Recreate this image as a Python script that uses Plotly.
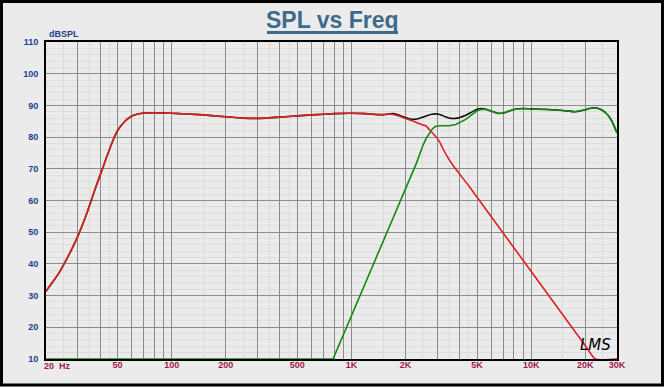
import numpy as np
import plotly.graph_objects as go

# ---------------- data ----------------
red_freq = [20, 22, 24, 26, 28, 30, 32, 34, 36, 38, 40, 42, 44, 46, 48, 50, 52, 55, 58, 61, 65,
            70, 80, 90, 100, 120, 150, 200, 250, 300, 400, 500, 600, 700, 800, 1000, 1200,
            1400, 1500, 1650, 1800, 2000, 2200, 2400, 2600, 2750, 2900, 3000, 3100, 3200,
            3400, 3700, 4000, 4500, 5000, 10000, 20000, 22700, 30000]
red_db = [31.4, 34.6, 37.8, 41.4, 45.0, 48.6, 52.5, 56.5, 60.6, 64.5, 68.0, 71.3, 74.5, 77.4,
          80.0, 82.0, 83.4, 85.0, 86.1, 86.8, 87.3, 87.6, 87.7, 87.6, 87.5, 87.3, 87.0, 86.4,
          86.0, 85.9, 86.3, 86.7, 87.0, 87.2, 87.4, 87.5, 87.4, 87.1, 87.0, 87.3, 86.8, 85.9,
          85.1, 84.2, 83.5, 82.0, 80.6, 79.6, 78.4, 76.8, 74.0, 70.8, 68.3, 64.6, 61.0, 37.6,
          14.2, 10.0, 10.0]

green_freq = [20, 790, 2300, 2400, 2500, 2600, 2700, 2800, 2900, 3000, 3200, 3500, 3800, 4000,
              4300, 4600, 5000, 5300, 5600, 6000, 6500, 7000, 7500, 8000, 9000, 10000, 12000,
              15000, 17500, 19000, 20000, 21000, 22000, 23000, 24000, 25000, 26000, 27000,
              28000, 29000, 30000]
green_db = [10, 10, 71.8, 75.0, 77.4, 79.5, 81.2, 82.4, 83.2, 83.5, 83.6, 83.6, 84.0, 84.6,
            85.5, 86.8, 88.3, 88.8, 88.7, 88.2, 87.5, 87.6, 88.2, 88.7, 89.0, 88.9, 88.8, 88.4,
            88.0, 88.3, 88.6, 89.0, 89.2, 89.2, 88.9, 88.4, 87.6, 86.6, 85.2, 83.4, 81.3]

sum_freq = [20, 22, 24, 26, 28, 30, 32, 34, 36, 38, 40, 42, 44, 46, 48, 50, 52, 55, 58, 61, 65,
            70, 80, 90, 100, 120, 150, 200, 250, 300, 400, 500, 600, 700, 800, 1000, 1200,
            1400, 1500, 1600, 1700, 1800, 1900, 2000, 2100, 2200, 2350, 2500, 2650, 2800,
            3000, 3150, 3300, 3450, 3600, 3800, 4000, 4300, 4600, 5000, 5300, 5600, 6000,
            6500, 7000, 7500, 8000, 9000, 10000, 12000, 15000, 17500, 19000, 20000, 21000,
            22000, 23000, 24000, 25000, 26000, 27000, 28000, 29000, 30000]
sum_db = [31.4, 34.6, 37.8, 41.4, 45.0, 48.6, 52.5, 56.5, 60.6, 64.5, 68.0, 71.3, 74.5, 77.4,
          80.0, 82.0, 83.4, 85.0, 86.1, 86.8, 87.3, 87.6, 87.7, 87.6, 87.5, 87.3, 87.0, 86.4,
          86.0, 85.9, 86.3, 86.7, 87.0, 87.2, 87.4, 87.5, 87.4, 87.1, 87.1, 87.3, 87.4, 87.1,
          86.6, 86.2, 85.8, 85.6, 85.8, 86.3, 86.8, 87.2, 87.3, 87.0, 86.5, 86.1, 85.9, 85.9,
          86.2, 86.8, 87.7, 88.8, 89.0, 88.8, 88.2, 87.5, 87.6, 88.2, 88.7, 89.0, 88.9, 88.8,
          88.4, 88.0, 88.3, 88.6, 89.0, 89.2, 89.2, 88.9, 88.4, 87.6, 86.6, 85.2, 83.4, 81.3]

x_labels = {50: "50", 100: "100", 200: "200", 500: "500", 1000: "1K", 2000: "2K",
            5000: "5K", 10000: "10K", 20000: "20K", 30000: "30K"}
y_ticks = list(range(10, 111, 10))

# ---------------- styling ----------------
RED = "#DD2020"
GREEN = "#138A13"
BLACK = "#101010"
YLAB = "#1B3F8B"
XLAB = "#A0194E"
TITLE = "#3E6A8A"
FONT = "Liberation Sans"

major_vals = [n * 10 ** k for k in range(1, 5) for n in range(1, 10)
              if 20 <= n * 10 ** k <= 30000]
minor_vals = [m * 10 ** k for k in range(1, 5) for m in (1.5, 2.5, 3.5, 4.5)
              if 20 <= m * 10 ** k <= 30000]
tick_text = [x_labels.get(v, "") for v in major_vals]

fig = go.Figure()
fig.add_trace(go.Scatter(x=sum_freq, y=sum_db, mode="lines",
                         line=dict(color=BLACK, width=1.6, shape="spline", smoothing=0.5),
                         showlegend=False))
fig.add_trace(go.Scatter(x=red_freq, y=red_db, mode="lines",
                         line=dict(color=RED, width=1.6, shape="spline", smoothing=0.5),
                         showlegend=False))
fig.add_trace(go.Scatter(x=green_freq, y=green_db, mode="lines",
                         line=dict(color=GREEN, width=1.6), showlegend=False))

W, H = 664, 389
L, R, T, B = 46, 617, 42, 359


def px(xp):
    return (xp - L) / (R - L)


def py(yp):
    return (B - yp) / (B - T)


fig.update_layout(
    width=W, height=H,
    margin=dict(l=L, r=W - R, t=T, b=H - B, pad=0),
    paper_bgcolor="white",
    plot_bgcolor="white",
    font=dict(family=FONT),
    showlegend=False,
)

fig.update_xaxes(
    type="log", range=[np.log10(20), np.log10(30000)],
    tickmode="array", tickvals=major_vals, ticktext=tick_text,
    showgrid=True, gridcolor="#8c8c8c", gridwidth=1,
    minor=dict(tickvals=minor_vals, showgrid=True, gridcolor="#dadada", gridwidth=1),
    showline=True, linecolor="black", linewidth=2, mirror=True,
    ticks="", zeroline=False, layer="below traces",
    tickfont=dict(family=FONT, size=9, color=XLAB, weight="bold"),
    ticklabelstandoff=-4,
)
fig.update_yaxes(
    range=[10, 110], tickmode="array", tickvals=y_ticks,
    showgrid=True, gridcolor="#8c8c8c", gridwidth=1,
    minor=dict(dtick=2, showgrid=True, gridcolor="#dedede", gridwidth=1),
    showline=True, linecolor="black", linewidth=2, mirror=True,
    ticks="", zeroline=False, layer="below traces",
    tickfont=dict(family=FONT, size=9, color=YLAB, weight="bold"),
    ticklabelstandoff=4,
)

# outer panel with black frame
fig.add_shape(type="rect", xref="paper", yref="paper", layer="below",
              x0=px(1.5), x1=px(662.5), y0=py(385), y1=py(1.5),
              fillcolor="#EBEBEB", line=dict(color="black", width=3))
# title underline
fig.add_shape(type="line", xref="paper", yref="paper",
              x0=px(267), x1=px(398), y0=py(32.5), y1=py(32.5),
              line=dict(color=TITLE, width=3))

fig.add_annotation(text="<b>SPL vs Freq</b>", xref="paper", yref="paper",
                   x=px(332), y=py(20), xanchor="center", yanchor="middle",
                   showarrow=False, font=dict(family=FONT, size=23, color=TITLE))
fig.add_annotation(text="<b>dBSPL</b>", xref="paper", yref="paper",
                   x=px(47), y=py(34.5), xanchor="left", yanchor="middle",
                   showarrow=False, font=dict(family=FONT, size=9, color=YLAB))
fig.add_annotation(text="<b>20  Hz</b>", xref="paper", yref="paper",
                   x=px(42), y=py(366), xanchor="left", yanchor="middle",
                   showarrow=False, font=dict(family=FONT, size=9, color=XLAB))
fig.add_annotation(text="<i>LMS</i>", xref="paper", yref="paper",
                   x=px(595), y=py(345), xanchor="center", yanchor="middle",
                   showarrow=False, font=dict(family="DejaVu Sans", size=15, color="black"))

fig.write_html("out.html", config={"displayModeBar": False},
               post_script="document.body.style.margin='0';document.body.style.overflow='hidden';")
